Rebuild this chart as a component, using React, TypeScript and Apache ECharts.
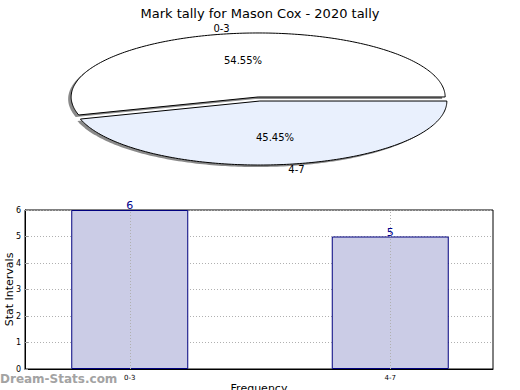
import React, { useEffect, useRef } from "react";
import * as echarts from "echarts";

const titleText = "Mark tally for Mason Cox - 2020 tally";
const categories = ["0-3", "4-7"];
const values = [6, 5];
const sliceColors = ["#ffffff", "#e9f0fd"];
const yTicks = [0, 1, 2, 3, 4, 5, 6];

export default function App() {
  const ref = useRef<HTMLDivElement>(null);
  useEffect(() => {
    if (!ref.current) return;
    const chart = echarts.init(ref.current, null, { renderer: "svg" });
    const total = values.reduce((a, b) => a + b, 0);
    const starts: number[] = [];
    let acc = 0;
    values.forEach((v) => {
      starts.push(acc);
      acc += v;
    });
    const font = "DejaVu Sans, sans-serif";
    const cx = 259;
    const cy = 99;
    const rx = 187;
    const ry = 64;
    const explode = 0.032;

    const slicePoints = (ccx: number, ccy: number, a0: number, a1: number) => {
      const pts: number[][] = [[ccx, ccy]];
      const n = Math.max(8, Math.ceil(((a1 - a0) * 180) / Math.PI));
      for (let k = 0; k <= n; k++) {
        const a = a0 + ((a1 - a0) * k) / n;
        pts.push([ccx + rx * Math.cos(a), ccy - ry * Math.sin(a)]);
      }
      return pts;
    };

    const renderPie = (params: any, api: any) => {
      const i = params.dataIndex;
      const v = api.value(0);
      const a0 = (starts[i] / total) * Math.PI * 2;
      const a1 = ((starts[i] + v) / total) * Math.PI * 2;
      const mid = (a0 + a1) / 2;
      const ox = explode * rx * Math.cos(mid);
      const oy = -explode * ry * Math.sin(mid);
      const pct = ((v / total) * 100).toFixed(2) + "%";
      const lx = cx + 1.1 * rx * Math.cos(mid);
      const ly = cy - 1.12 * ry * Math.sin(mid);
      const px = cx + 0.6 * rx * Math.cos(mid);
      const py = cy - 0.6 * ry * Math.sin(mid);
      return {
        type: "group",
        children: [
          {
            type: "polygon",
            z2: 0,
            shape: { points: slicePoints(cx + ox - 3, cy + oy + 2, a0, a1) },
            style: { fill: "#8a8a8a", stroke: "none" },
          },
          {
            type: "polygon",
            z2: 10,
            shape: { points: slicePoints(cx + ox, cy + oy, a0, a1) },
            style: { fill: sliceColors[i], stroke: "#000", lineWidth: 1 },
          },
          {
            type: "text",
            z2: 20,
            x: lx,
            y: ly,
            style: {
              text: categories[i],
              fontSize: 10,
              fontFamily: font,
              fill: "#000",
              align: Math.cos(mid) < 0 ? "right" : "left",
              verticalAlign: "middle",
            },
          },
          {
            type: "text",
            z2: 20,
            x: px,
            y: py,
            style: {
              text: pct,
              fontSize: 10,
              fontFamily: font,
              fill: "#000",
              align: "center",
              verticalAlign: "middle",
            },
          },
        ],
      };
    };

    chart.setOption({
      animation: false,
      backgroundColor: "#fff",
      textStyle: { fontFamily: font },
      title: {
        text: titleText,
        left: "center",
        top: 2,
        textStyle: { fontSize: 13, fontWeight: "normal", color: "#000", fontFamily: font },
      },
      grid: [
        {
          left: 25,
          top: 210,
          right: 27,
          bottom: 21,
          show: true,
          borderColor: "#000",
          borderWidth: 1,
          backgroundColor: "transparent",
          containLabel: false,
          outerBoundsMode: "none",
        },
        {
          left: -0.5,
          top: 210,
          right: -0.5,
          bottom: 21,
          show: false,
          containLabel: false,
          outerBoundsMode: "none",
        },
      ],
      xAxis: [
        {
          gridIndex: 0,
          type: "value",
          min: 0,
          max: 1,
          axisLine: { show: true, lineStyle: { color: "#000" } },
          axisTick: { show: false },
          axisLabel: { show: false },
          splitLine: { show: false },
          name: "Frequency",
          nameLocation: "middle",
          nameGap: 14,
          nameMoveOverlap: false,
          nameTextStyle: { fontSize: 11, color: "#000" },
        },
        {
          gridIndex: 1,
          type: "category",
          data: categories,
          axisLine: { show: false },
          axisTick: { show: true, alignWithLabel: true, inside: true, length: 3, lineStyle: { color: "#999" } },
          axisLabel: { fontSize: 7, color: "#000", margin: 5 },
          splitLine: { show: false },
        },
      ],
      yAxis: [
        {
          gridIndex: 0,
          type: "value",
          min: 0,
          max: 6,
          interval: 1,
          axisLine: { show: true, lineStyle: { color: "#000" } },
          axisTick: { show: true, inside: true, length: 3, lineStyle: { color: "#999" } },
          axisLabel: {
            fontSize: 8,
            color: "#000",
            margin: 4,
            formatter: (v: number) => (yTicks.includes(v) ? String(v) : ""),
          },
          splitLine: { show: true, lineStyle: { color: "#b0b0b0", type: [1, 2] } },
          name: "Stat Intervals",
          nameLocation: "middle",
          nameGap: 10,
          nameMoveOverlap: false,
          nameTextStyle: { fontSize: 11, color: "#000" },
        },
        {
          gridIndex: 1,
          type: "value",
          min: 0,
          max: 6,
          interval: 1,
          show: false,
        },
      ],
      graphic: [
        {
          type: "text",
          left: 0,
          top: 373,
          style: {
            text: "Dream-Stats.com",
            fontSize: 12,
            fontWeight: "bold",
            fontFamily: font,
            fill: "#a3a3a3",
          },
        },
      ],
      series: [
        {
          type: "custom",
          coordinateSystem: "none",
          data: values.map((v) => [v]),
          renderItem: renderPie,
          silent: true,
        },
        {
          type: "bar",
          xAxisIndex: 1,
          yAxisIndex: 1,
          data: values,
          barWidth: 117,
          itemStyle: { color: "#cbcce6", borderColor: "#00007f", borderWidth: 1 },
          label: {
            show: true,
            position: "top",
            distance: -1,
            color: "#00008b",
            fontSize: 11,
          },
          markLine: {
            silent: true,
            symbol: "none",
            label: { show: false },
            lineStyle: { color: "#b0b0b0", type: [1, 2], width: 1 },
            data: categories.map((c) => ({ xAxis: c })),
          },
        },
      ],
    });
    return () => chart.dispose();
  }, []);
  return <div ref={ref} style={{ width: 520, height: 390, position: "absolute", left: 0, top: 0 }} />;
}
